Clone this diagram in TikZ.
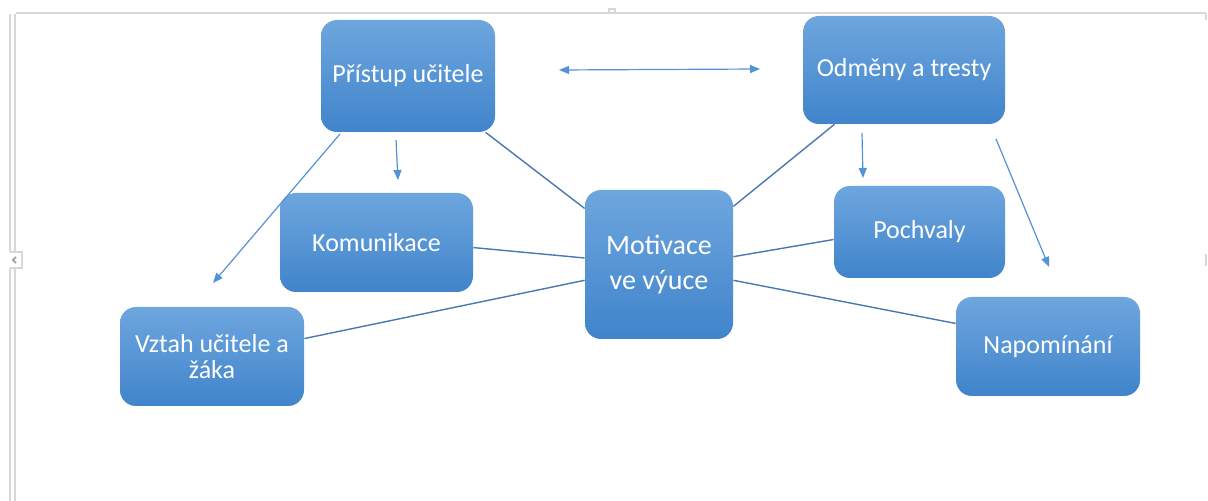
\documentclass[tikz,border=0pt]{standalone}
\usepackage{fontspec}
\setmainfont{Carlito}
\usetikzlibrary{arrows.meta}
\definecolor{boxtop}{RGB}{110,166,222}
\definecolor{boxbot}{RGB}{64,132,203}
\definecolor{linkcol}{RGB}{74,120,176}
\definecolor{arrcol}{RGB}{84,146,214}
\definecolor{framecol}{RGB}{215,215,215}
\tikzset{
  topic/.style={rounded corners=8pt, top color=boxtop, bottom color=boxbot,
    draw=none, text=white, align=center, inner sep=0pt,
    font=\fontsize{13}{13}\selectfont},
  link/.style={draw=linkcol, line width=0.7pt},
  pointer/.style={draw=arrcol, line width=0.6pt, -{Triangle[width=4pt,length=5pt]}},
  twoway/.style={draw=arrcol, line width=0.6pt, {Triangle[width=4pt,length=5pt]}-{Triangle[width=4pt,length=5pt]}},
  frameline/.style={draw=framecol, line width=0.6pt}
}
\begin{document}
\begin{tikzpicture}[x=0.5pt,y=-0.5pt]
\useasboundingbox (0,0) rectangle (1208,501);
\fill[white] (0,0) rectangle (1208,501);
% frame of the canvas
\draw[frameline] (16,13) -- (1206,13);
\draw[frameline] (10,14) -- (10,252) (10,268) -- (10,501);
\draw[frameline] (15,14) -- (15,252) (15,268) -- (15,501);
\draw[frameline] (10,252) -- (22,252) -- (22,268) -- (10,268);
\draw[draw=gray!70, line width=1pt] (16,257) -- (13,260) -- (16,263);
\draw[frameline] (1206,13) -- (1206,20);
\draw[frameline] (1206,254) -- (1206,266);
\draw[frameline] (609,13) -- (609,9) -- (615,9) -- (615,13);

% nodes
\node[topic, minimum width=87pt, minimum height=56pt] (prist) at (408,76) {Přístup učitele};
\node[topic, minimum width=101pt, minimum height=54pt] (odmeny) at (904,70) {Odměny a tresty};
\node[topic, minimum width=96.5pt, minimum height=49.5pt] (komun) at (376.5,242.5) {Komunikace};
\node[topic, minimum width=74pt, minimum height=74.5pt, font=\fontsize{14}{17.5}\selectfont] (motiv) at (659,264.5) {Motivace\\ve výuce};
\node[topic, minimum width=85.5pt, minimum height=46pt] (pochv) at (919.5,232) {\raisebox{-1.5pt}{Pochvaly}};
\node[topic, minimum width=92pt, minimum height=49.5pt] (vztah) at (212,356.5) {Vztah učitele a\\žáka};
\node[topic, minimum width=92pt, minimum height=49.5pt] (napom) at (1048,346.5) {Napomínání};

% links to the centre
\draw[link] (prist.-36) -- (motiv.143.6);
\draw[link] (odmeny.218.5) -- (motiv.38.3);
\draw[link] (komun.-3.9) -- (motiv.175);
\draw[link] (vztah.11.4) -- (motiv.-168.2);
\draw[link] (pochv.185.3) -- (motiv.6.6);
\draw[link] (napom.166.8) -- (motiv.-12.6);

% free arrows
\coordinate (a1s) at (340,134);
\coordinate (a1e) at (213,283);
\coordinate (a2s) at (396,140);
\coordinate (a2e) at (398,180);
\coordinate (a3s) at (862,133);
\coordinate (a3e) at (863,178);
\coordinate (a4s) at (996,139);
\coordinate (a4e) at (1049,267);
\coordinate (a5s) at (559,70);
\coordinate (a5e) at (760,69);
\draw[pointer] (a1s) -- (a1e);
\draw[pointer] (a2s) -- (a2e);
\draw[pointer] (a3s) -- (a3e);
\draw[pointer] (a4s) -- (a4e);
\draw[twoway] (a5s) -- (a5e);
\end{tikzpicture}
\end{document}
